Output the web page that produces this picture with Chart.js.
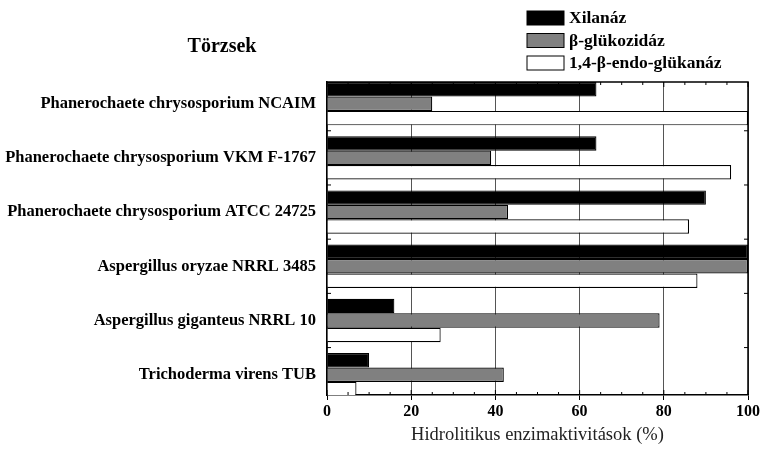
<!DOCTYPE html>
<html>
<head>
<meta charset="utf-8">
<script src="https://cdn.jsdelivr.net/npm/chart.js@4.4.1/dist/chart.umd.min.js"></script>
<style>
  html, body { margin: 0; padding: 0; background: #fff; }
  #wrap { width: 763px; height: 450px; }
</style>
</head>
<body>
<div id="wrap"><canvas id="enzymeChart" width="763" height="450"></canvas></div>
<script>
const strains = [
    'Phanerochaete chrysosporium NCAIM',
    'Phanerochaete chrysosporium VKM F-1767',
    'Phanerochaete chrysosporium ATCC 24725',
    'Aspergillus oryzae NRRL 3485',
    'Aspergillus giganteus NRRL 10',
    'Trichoderma virens TUB'
];
const seriesNames = ['Xilanáz', 'β-glükozidáz', '1,4-β-endo-glükanáz'];
const xilanaz = [64, 64, 90, 100, 16, 10];
const glukozidaz = [25, 39, 43, 100, 79, 42];
const glukanaz = [100, 96, 86, 88, 27, 7];
const xTicks = [0, 20, 40, 60, 80, 100];

const serif = 'Liberation Serif, Times New Roman, serif';

function toPoints(values) {
    return values.map((v, i) => ({ x: v, y: i }));
}

// top/right frame, inner ticks, "Törzsek" header and the stacked legend
const framePlugin = {
    id: 'frame',
    afterDraw(chart) {
        const ctx = chart.ctx;
        const a = chart.chartArea;
        const xs = chart.scales.x;
        const ys = chart.scales.y;
        ctx.save();
        ctx.strokeStyle = '#000';
        ctx.lineWidth = 1.5;
        ctx.beginPath();
        ctx.moveTo(a.left, a.top);
        ctx.lineTo(a.right, a.top);
        ctx.lineTo(a.right, a.bottom);
        ctx.stroke();

        ctx.lineWidth = 1;
        for (let v = 0; v <= 100; v += 5) {
            const px = xs.getPixelForValue(v);
            const len = v % 20 === 0 ? 5 : 3;
            ctx.beginPath();
            ctx.moveTo(px, a.bottom);
            ctx.lineTo(px, a.bottom - len);
            ctx.moveTo(px, a.top);
            ctx.lineTo(px, a.top + len);
            ctx.stroke();
        }
        for (let i = 0; i < strains.length; i++) {
            const py = ys.getPixelForValue(i + 0.5);
            if (py > a.bottom) continue;
            ctx.beginPath();
            ctx.moveTo(a.left, py);
            ctx.lineTo(a.left + 4, py);
            ctx.moveTo(a.right, py);
            ctx.lineTo(a.right - 4, py);
            ctx.stroke();
        }

        ctx.fillStyle = '#000';
        ctx.font = 'bold 20px ' + serif;
        ctx.textAlign = 'center';
        ctx.textBaseline = 'middle';
        ctx.fillText('Törzsek', 222, 47);

        ctx.font = 'bold 17.5px ' + serif;
        ctx.textAlign = 'left';
        chart.data.datasets.forEach((ds, i) => {
            const y = 11 + i * 22.5;
            ctx.fillStyle = ds.backgroundColor;
            ctx.fillRect(527, y, 37, 14);
            ctx.strokeStyle = '#000';
            ctx.lineWidth = 1;
            ctx.strokeRect(527, y, 37, 14);
            ctx.fillStyle = '#000';
            ctx.fillText(ds.label, 569, y + 7.5);
        });
        ctx.restore();
    }
};

const ctx = document.getElementById('enzymeChart').getContext('2d');
new Chart(ctx, {
    type: 'bar',
    data: {
        datasets: [{
            label: seriesNames[0],
            data: toPoints(xilanaz),
            backgroundColor: '#000000',
            borderColor: '#000000',
            borderWidth: 1.2
        }, {
            label: seriesNames[1],
            data: toPoints(glukozidaz),
            backgroundColor: '#808080',
            borderColor: '#000000',
            borderWidth: 1.2
        }, {
            label: seriesNames[2],
            data: toPoints(glukanaz),
            backgroundColor: '#ffffff',
            borderColor: '#000000',
            borderWidth: 1.2
        }]
    },
    options: {
        indexAxis: 'y',
        responsive: false,
        animation: false,
        devicePixelRatio: 1,
        layout: { padding: { top: 82, right: 15, left: 0, bottom: 0 } },
        datasets: {
            bar: { categoryPercentage: 0.8, barPercentage: 1.0 }
        },
        plugins: {
            legend: { display: false },
            title: { display: false },
            tooltip: { enabled: false }
        },
        scales: {
            x: {
                type: 'linear',
                min: 0,
                max: 100,
                afterBuildTicks: scale => { scale.ticks = xTicks.map(v => ({ value: v })); },
                afterFit: scale => { scale.height = 55; },
                grid: {
                    color: '#555',
                    lineWidth: 1,
                    tickLength: 5,
                    tickColor: '#000'
                },
                border: { color: '#000', width: 1.5 },
                ticks: {
                    color: '#000',
                    padding: 2,
                    font: { family: serif, size: 16, weight: 'bold' }
                },
                title: {
                    display: true,
                    text: 'Hidrolitikus enzimaktivitások (%)',
                    color: '#222',
                    padding: { top: 4 },
                    font: { family: serif, size: 18.5 }
                }
            },
            y: {
                type: 'linear',
                reverse: true,
                offset: false,
                min: -0.4,
                max: 5.375,
                afterBuildTicks: scale => { scale.ticks = strains.map((s, i) => ({ value: i })); },
                afterFit: scale => { scale.width = 327; },
                grid: { display: false, drawTicks: false, offset: false },
                border: { color: '#000', width: 1.5 },
                ticks: {
                    color: '#000',
                    padding: 11,
                    font: { family: serif, size: 16.5, weight: 'bold' },
                    callback: value => strains[value]
                }
            }
        }
    },
    plugins: [framePlugin]
});
</script>
</body>
</html>
